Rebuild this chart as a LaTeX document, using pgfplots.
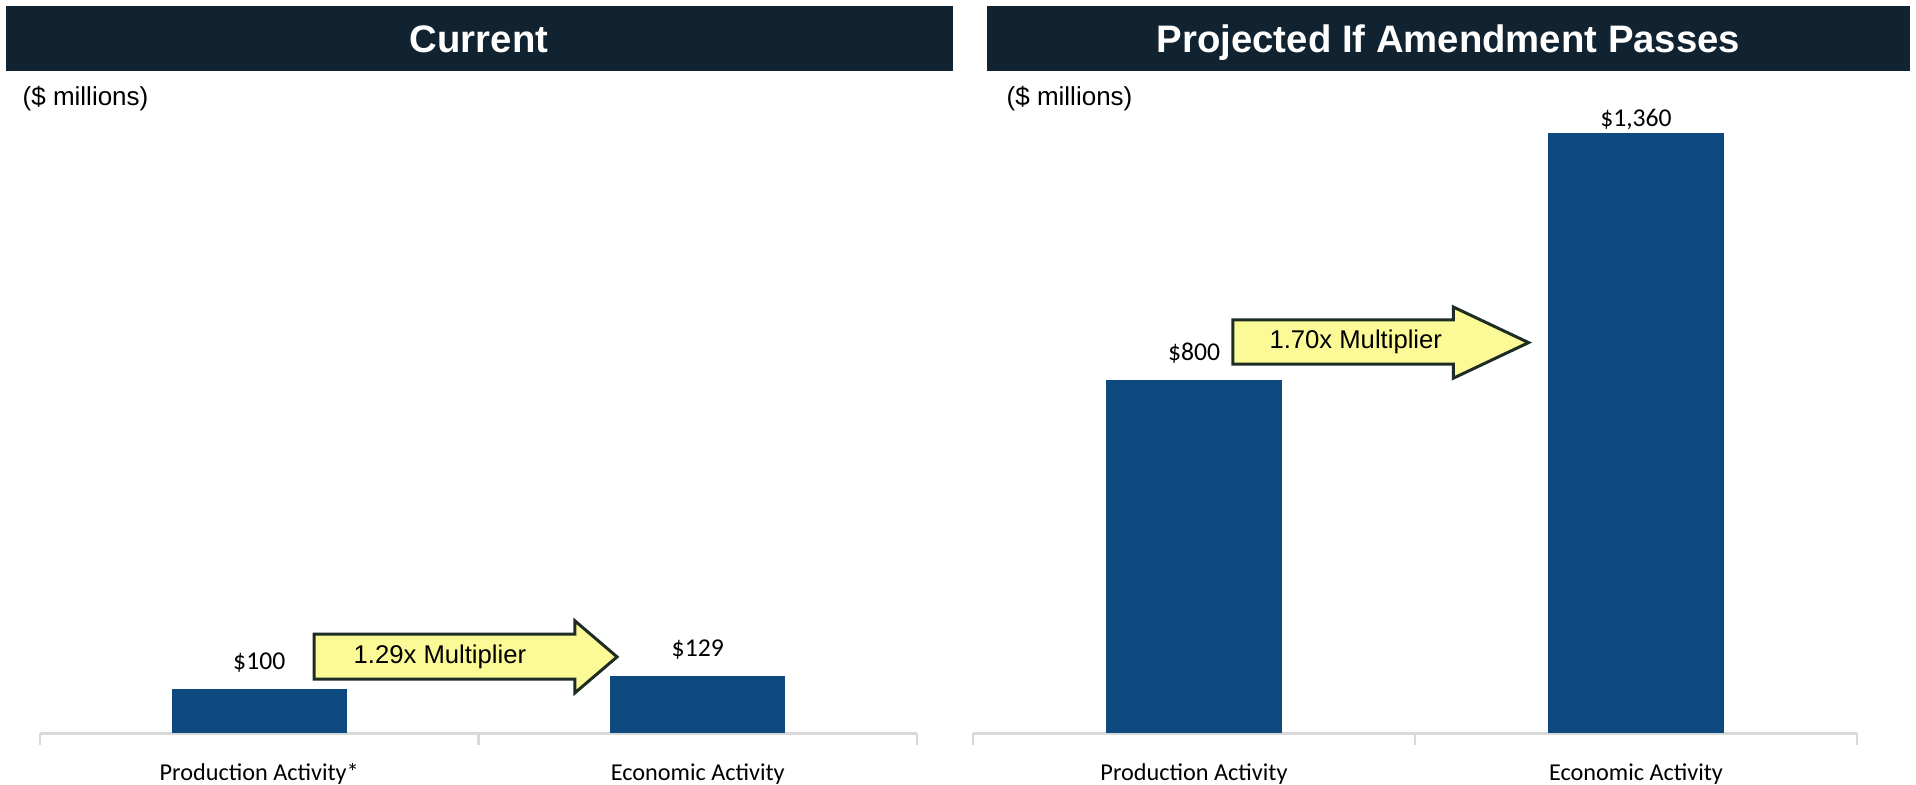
\documentclass[border=0pt]{standalone}
\usepackage{pgfplots}
\pgfplotsset{compat=1.18}
\usepackage{fontspec}
\setmainfont{Liberation Sans}
\newfontfamily\calfont{Carlito}
\definecolor{titlebg}{RGB}{17,34,48}
\definecolor{barblue}{RGB}{14,74,128}
\definecolor{arrowfill}{RGB}{252,250,150}
\definecolor{arrowdraw}{RGB}{30,45,35}
\definecolor{linegray}{RGB}{217,217,217}
\pgfplotsset{panel/.style={
  scale only axis, ymin=0, ymax=1450, xmin=-0.5, xmax=1.5,
  axis y line=none, axis x line=bottom,
  x axis line style={draw=linegray, line width=0.3mm, -},
  xtick={0,1}, major tick length=0pt,
  minor xtick={-0.5,0.5,1.5}, minor tick length=1.2mm, xtick align=center,
  tick style={draw=linegray, line width=0.25mm},
  xticklabel style={font=\calfont\fontsize{6.9}{8}\selectfont, anchor=base, yshift=-4.7mm},
  ybar, bar width=0.4, bar shift=0pt, clip=false,
  every node near coord/.append style={font=\calfont\fontsize{7.3}{8}\selectfont, text=black},
}}
\begin{document}
\begin{tikzpicture}
\useasboundingbox (0,0) rectangle (191.6mm,78.4mm);
% title bars
\fill[titlebg] (0.6mm,71.3mm) rectangle (95.3mm,77.8mm);
\fill[titlebg] (98.7mm,71.3mm) rectangle (191.0mm,77.8mm);
\node[anchor=base, text=white, inner sep=0pt, font=\bfseries\fontsize{10.9}{12}\selectfont] at (47.9mm,73.2mm) {Current};
\node[anchor=base, text=white, inner sep=0pt, font=\bfseries\fontsize{10.9}{12}\selectfont] at (144.85mm,73.2mm) {Projected If Amendment Passes};
\node[anchor=base west, inner sep=0pt, font=\fontsize{7.4}{9}\selectfont] at (2.2mm,67.9mm) {(\$ millions)};
\node[anchor=base west, inner sep=0pt, font=\fontsize{7.4}{9}\selectfont] at (100.6mm,67.9mm) {(\$ millions)};

\begin{axis}[panel, at={(4.0mm,5.1mm)}, anchor=south west, width=87.7mm, height=64mm,
  xticklabels={Production Activity*, Economic Activity}]
\addplot[fill=barblue, draw=none, nodes near coords={\$100},
  every node near coord/.append style={yshift=0.45mm}] coordinates {(0,100)};
\addplot[fill=barblue, draw=none, nodes near coords={\$129},
  every node near coord/.append style={yshift=0.45mm}] coordinates {(1,129)};
\draw[fill=arrowfill, draw=arrowdraw, line width=0.3mm, line join=miter]
  (axis cs:0.125,122) -- (axis cs:0.72,122) -- (axis cs:0.72,91) -- (axis cs:0.816,172.5)
  -- (axis cs:0.72,254) -- (axis cs:0.72,224) -- (axis cs:0.125,224) -- cycle;
\node[font=\fontsize{7.3}{9}\selectfont] at (axis cs:0.412,173) {1.29x Multiplier};
\end{axis}

\begin{axis}[panel, at={(97.3mm,5.1mm)}, anchor=south west, width=88.4mm, height=64mm,
  xticklabels={Production Activity, Economic Activity}]
\addplot[fill=barblue, draw=none, nodes near coords={\$800},
  every node near coord/.append style={yshift=0.45mm}] coordinates {(0,800)};
\addplot[fill=barblue, draw=none, nodes near coords={\$1,360},
  every node near coord/.append style={yshift=-0.9mm}] coordinates {(1,1360)};
\draw[fill=arrowfill, draw=arrowdraw, line width=0.3mm, line join=miter]
  (axis cs:0.088,836) -- (axis cs:0.587,836) -- (axis cs:0.587,804) -- (axis cs:0.757,884.5)
  -- (axis cs:0.587,965) -- (axis cs:0.587,936) -- (axis cs:0.088,936) -- cycle;
\node[font=\fontsize{7.3}{9}\selectfont] at (axis cs:0.366,886) {1.70x Multiplier};
\end{axis}
\end{tikzpicture}
\end{document}
